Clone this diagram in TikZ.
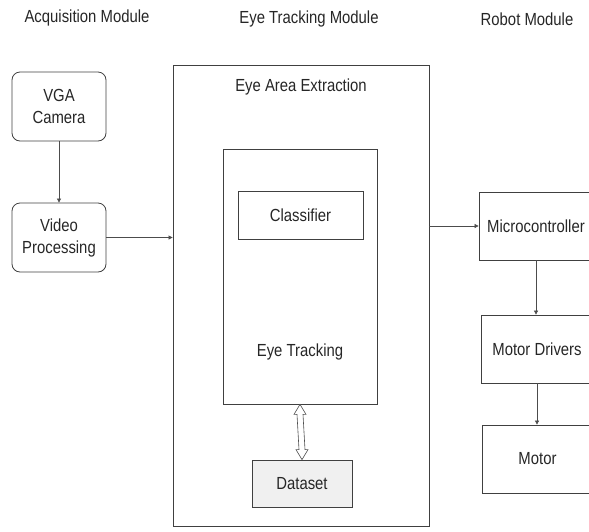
\documentclass[tikz,border=0pt]{standalone}
\usepackage{fontspec}
\setmainfont[FakeStretch=0.85]{Liberation Sans}
\usetikzlibrary{arrows.meta,calc}
\begin{document}
\begin{tikzpicture}[x=1pt,y=-1pt,
  txt/.style={font=\fontsize{17.5}{22}\selectfont, text=black!85, align=center},
  box/.style={txt, draw=black!75, line width=0.8pt, inner sep=0pt},
  rbox/.style={box, rounded corners=8pt},
  conn/.style={draw=black!70, line width=0.7pt, -{Triangle[length=4pt,width=4pt]}}]
\useasboundingbox (0,0) rectangle (589,531);
\clip (0,0) rectangle (589,531);
% headings
\node[txt] (h1) at (87,18) {Acquisition Module};
\node[txt] (h2) at (309,19) {Eye Tracking Module};
\node[txt] (h3) at (527,19) {Robot Module};
% acquisition
\node[rbox, minimum width=94, minimum height=69] (vga) at (59,106.5) {VGA\\Camera};
\node[rbox, minimum width=94, minimum height=69] (vp) at (59,237.5) {Video\\Processing};
% eye tracking module
\node[box, minimum width=256, minimum height=461] (eae) at (301,295.5) {};
\node[txt] (eaet) at (301,87) {Eye Area Extraction};
\node[box, minimum width=154, minimum height=255] (et) at (300,276.5) {};
\node[txt] (ett) at (300,352) {Eye Tracking};
\node[box, minimum width=125, minimum height=48] (cl) at (300.5,215) {Classifier};
\node[box, fill=black!6, minimum width=100, minimum height=47] (ds) at (302,483.5) {Dataset};
% robot module
\node[box, minimum width=114, minimum height=68] (mc) at (536,226) {Microcontroller};
\node[box, minimum width=112, minimum height=68] (md) at (537,349) {Motor Drivers};
\node[box, minimum width=111, minimum height=68] (mo) at (537.5,459) {Motor};
% connectors
\draw[conn] (vga.south) -- (vp.north);
\draw[conn] (vp.east) -- (vp.east -| eae.west);
\draw[conn] (eae.east |- mc.west) -- (mc.west);
\draw[conn] (mc.south) -- (mc.south |- md.north);
\draw[conn] (md.south) -- (md.south |- mo.north);
\draw[draw=black!70, fill=white, line width=0.6pt]
  (et.south) -- ++(6,10) -- ++(-3,0) -- ($(ds.north)+(3,-10)$) -- ++(3,0)
  -- (ds.north) -- ++(-6,-10) -- ++(3,0) -- ($(et.south)+(-3,10)$) -- ++(-3,0) -- cycle;
\end{tikzpicture}
\end{document}
